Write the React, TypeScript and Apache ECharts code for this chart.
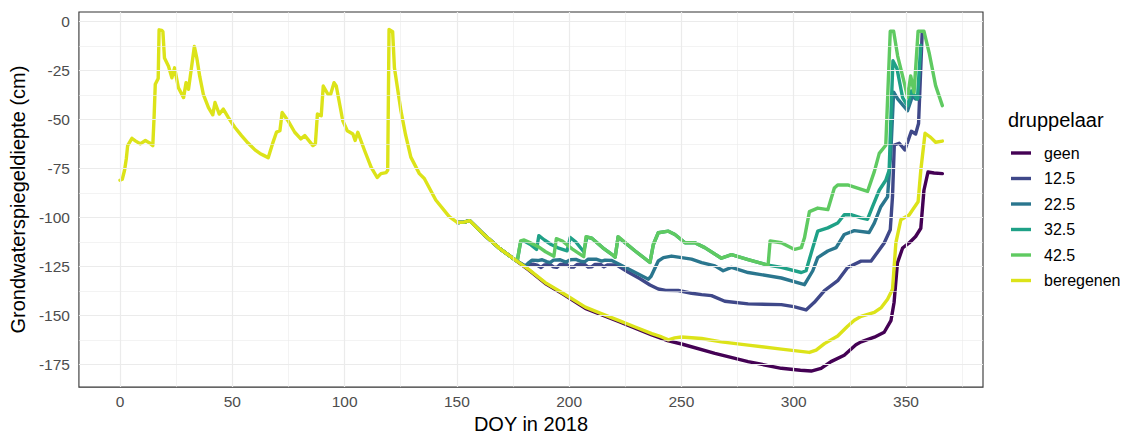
import React, { useEffect, useRef } from "react";
import * as echarts from "echarts";

type Pt = [number, number];

// shared trajectory (all treatments identical until ~day 176)
const commonPath: Pt[] = [
  [0, -81], [1, -80.5], [2, -76], [2.8, -70], [3.4, -63.3], [5.3, -59.6], [7, -61], [9, -62.4],
  [11.3, -60.7], [13, -61.8], [14.6, -63.3], [15.2, -48], [15.7, -32], [17, -29], [17.4, -4.2],
  [18.6, -4.5], [19.1, -5.1], [19.8, -18.6], [21.6, -22.8], [23.1, -28.7], [24.3, -23.6], [26, -33.8],
  [28.3, -38.8], [29.4, -31.2], [30.5, -34.6], [33.1, -12.7], [34.2, -18.6], [35.5, -28], [37.1, -37.1],
  [39.4, -43.9], [41.3, -47.6], [42.3, -41.3], [44.2, -47.2], [46, -44.7], [48.2, -48.9], [51, -53.8],
  [54.1, -58.2], [57, -62], [60.1, -65.5], [62.3, -67.3], [64, -68.3], [66, -69.5], [68.2, -61.4],
  [69.7, -56.4], [71.2, -55.7], [72.2, -46.4], [74.8, -50.6], [77.8, -56.5], [80.5, -59.9], [82.3, -58.2],
  [85.9, -63.3], [87, -62.4], [87.9, -47.2], [89.6, -48.1], [90.5, -32.9], [92.6, -37.1], [93.8, -37.1],
  [95.3, -31.2], [96.3, -32.9], [99.2, -50.6], [101.2, -55.7], [103.7, -57.4], [104.7, -60.7],
  [105.9, -56.5], [108.9, -65.8], [111.8, -74.3], [114.5, -79.6], [116.2, -77.6], [118.5, -77.1],
  [119.2, -75.9], [119.8, -4], [121.4, -5.1], [122.2, -23.6], [125.1, -45.6], [127.2, -58], [129.5, -69.2],
  [133.3, -77.6], [135.5, -80.1], [140.6, -91.1], [146.6, -99.6], [150.3, -102.6], [153.2, -102.4],
  [155.7, -101.6], [161.4, -108], [168.8, -115.6], [176.1, -121.8],
];

const geenTail: Pt[] = [
  [182.1, -126.9], [189.4, -133.7], [196.9, -138.9], [207.2, -146.4], [214.6, -149.8], [222, -153.1],
  [229.4, -156.5], [236.8, -159.9], [244.2, -163], [250.1, -164.6], [264.9, -169.4], [279.7, -173.6],
  [294.5, -177], [303, -178], [307.8, -178.4], [312.2, -177], [316.6, -173.6], [322.5, -170.3],
  [327.7, -165], [330, -163.5], [335.9, -161.1], [340.3, -158.6], [343.3, -152.7], [344.7, -143.4],
  [346.2, -123.2], [348.5, -115.6], [351.4, -113], [354.3, -109.7], [356.6, -105.5], [358, -86.1],
  [359.8, -76.8], [362.5, -77.3], [366.2, -77.6],
];

const tail125: Pt[] = [
  [180.5, -125], [182.1, -123.9], [184, -123.8], [186, -124.5], [187.5, -125.5], [189, -124.2],
  [191.5, -124], [193, -125.2], [194.5, -125.5], [196, -124], [199, -124], [200.5, -125.3], [202, -125.3],
  [203.5, -124], [207, -124], [208.5, -125.3], [210, -125.2], [211.5, -124], [214, -124], [215.5, -125.2],
  [217, -124.3], [221, -124.2], [226.4, -128], [231.6, -131.3], [236, -134.5], [239.7, -136.5],
  [243, -137.2], [248.6, -137.3], [254.5, -138.7], [259, -139.4], [263.4, -139.9], [269.3, -142.8],
  [279.7, -144.1], [294.5, -144.5], [300, -145.5], [305.5, -147.2], [309.2, -143.3], [313.7, -137.3],
  [319.6, -132.3], [324, -125.5], [330, -122.3], [334.4, -122.3], [337.5, -117.5], [340.3, -113],
  [343, -106.3], [344, -89.4], [344.8, -63], [347, -62.1], [349.5, -65.5], [352.4, -56], [354.3, -57.4],
  [355.6, -52], [357.2, -6],
];

const tail225: Pt[] = [
  [180.5, -124.8], [182.1, -123], [183.5, -121.8], [186, -122], [188, -121.6], [190, -122.5],
  [191.5, -123], [193, -121.8], [196, -121.6], [198.5, -122.8], [200.5, -121.6], [203, -121.4],
  [205.5, -122.5], [207, -122.6], [208.5, -121.3], [212, -121.3], [214.5, -122.3], [216, -121.8],
  [219, -122], [226, -126], [231, -129], [235.3, -131.5], [236.5, -130], [239.7, -122.2], [242, -120.5],
  [245.6, -119.7], [250.1, -120.5], [254.5, -121.3], [259, -123], [264.9, -124.7], [268.6, -127.2],
  [272.3, -125.5], [279.7, -128.1], [294.5, -130.9], [304.8, -134.3], [308.5, -127.2], [310.7, -120.5],
  [315.2, -117.1], [318.9, -115.4], [322.5, -108.7], [327, -106.7], [333.6, -107.7], [335.9, -102.9],
  [338.8, -94.5], [341.8, -89.4], [343.3, -65.8], [344.5, -36], [346.3, -39.5], [350.7, -45.5],
  [352.9, -38], [354.3, -39.5], [356.1, -38.5],
];

const tail325: Pt[] = [
  [177, -121.5], [178.4, -112.5], [180, -112], [183, -114], [185.5, -116.3], [186.5, -109.3],
  [189, -111.5], [192, -113.8], [195, -115.5], [199.1, -117], [200.5, -110.2], [203, -112.5],
  [206.5, -117.5], [207.9, -110], [210.1, -110.6], [215, -115.5], [219, -118.8], [220.5, -120.3],
  [221.8, -110], [229.4, -117.1], [236, -123], [237.5, -113.8], [239.7, -107.8], [244.2, -107],
  [247.1, -108.7], [251.6, -112.9], [256, -112.9], [260.4, -115.4], [267.8, -120.8], [272.3, -119],
  [279.7, -121.5], [288.6, -124.3], [294.5, -125.5], [303.4, -128.1], [305.5, -127.2], [308.5, -115.4],
  [310.7, -107], [315.2, -105.3], [319.6, -102.8], [322.5, -98.6], [325.5, -98.6], [330, -100.2],
  [332.9, -100.9], [335.1, -94.5], [338.1, -86.1], [341, -81], [342.5, -75.9], [343.6, -38.8],
  [344.2, -20], [346, -24], [348.5, -38.8], [350.7, -43], [352.4, -35.4], [355.1, -39.6], [356.6, -12],
];

const tail425: Pt[] = [
  [177, -121.5], [178.4, -112], [180, -111.5], [182, -112.5], [186.4, -115], [189.5, -117.5],
  [193.2, -119.8], [194.3, -110.8], [197, -112], [201.3, -116], [206.5, -120], [207.5, -109.8],
  [210.1, -110.6], [215, -115.5], [219, -118.8], [220.5, -120.3], [221.8, -109.8], [229.4, -117.1],
  [236, -123], [237.5, -113.8], [239.7, -107.8], [244.2, -107], [247.1, -108.7], [251.6, -112.9],
  [256, -112.9], [260.4, -115.4], [267.8, -120.8], [272.3, -119], [279.7, -121.5], [288.6, -124.3],
  [289.5, -112], [294.5, -112.9], [300.4, -116.3], [303.4, -115.4], [304.8, -110.4], [307, -97],
  [310.7, -95.2], [315.2, -96], [318.1, -85], [319.6, -83.4], [324, -83.4], [332.9, -86.7],
  [335.9, -76.6], [338.1, -67.3], [341, -63.1], [343, -4.9], [344.5, -4.9], [346.3, -17.6],
  [349.2, -31], [350.7, -38.6], [352.1, -27.7], [353.6, -36.1], [355.4, -4.9], [358, -4.9],
  [360.3, -15.8], [363.2, -32.7], [366.2, -42.9],
];

const beregenenTail: Pt[] = [
  [182.1, -126.6], [189.4, -133.3], [196.9, -138.4], [199.8, -140.5], [207.2, -145.8], [214.6, -149.2],
  [222, -152.5], [229.4, -155.9], [236.8, -159.3], [241.2, -161], [244.2, -162.5], [247, -161.5],
  [250, -161], [259, -161.8], [267.8, -163.5], [279.7, -165.2], [294.5, -167.2], [307, -168.9],
  [310, -167.7], [313.7, -164.4], [319.6, -160.5], [324, -155.5], [327, -152.5], [330, -150.5],
  [335.9, -148.5], [339, -146], [341.8, -141.7], [344, -136.7], [345.5, -113], [347.7, -101.2],
  [351.4, -98.7], [352.9, -96.2], [355.4, -92], [356.6, -75.9], [358.5, -57], [361, -59.1],
  [363.2, -61.6], [366.2, -61],
];

const seriesNames = ["geen", "12.5", "22.5", "32.5", "42.5", "beregenen"];
const seriesTails: Pt[][] = [geenTail, tail125, tail225, tail325, tail425, beregenenTail];
const seriesColors = ["#440154", "#3F4889", "#2A768E", "#1FA187", "#5FCA61", "#DCE319"];

const xTicks = [0, 50, 100, 150, 200, 250, 300, 350];
const xMinorTicks = [25, 75, 125, 175, 225, 275, 325, 375];
const yTicks = [0, -25, -50, -75, -100, -125, -150, -175];
const yMinorTicks = [-12.5, -37.5, -62.5, -87.5, -112.5, -137.5, -162.5];

const FONT = "'Liberation Sans', Arial, sans-serif";

export default function App() {
  const ref = useRef<HTMLDivElement>(null);
  useEffect(() => {
    if (!ref.current) return;
    const chart = echarts.init(ref.current, undefined, { renderer: "svg" });

    const gridLines = [
      ...xMinorTicks.map((v) => ({ xAxis: v, lineStyle: { color: "#EBEBEB", width: 0.6, type: "solid" } })),
      ...yMinorTicks.map((v) => ({ yAxis: v, lineStyle: { color: "#EBEBEB", width: 0.6, type: "solid" } })),
      ...xTicks.map((v) => ({ xAxis: v, lineStyle: { color: "#EBEBEB", width: 1.2, type: "solid" } })),
      ...yTicks.map((v) => ({ yAxis: v, lineStyle: { color: "#EBEBEB", width: 1.2, type: "solid" } })),
    ];

    // the treatments only become visible once they leave the shared path;
    // start them a little before that so the yellow line stays clean earlier on
    const sharedLate = commonPath.filter((p) => p[0] >= 150);

    const lineSeries = seriesNames.map((name, i) => ({
      name,
      type: "line",
      data: name === "beregenen" ? [...commonPath, ...seriesTails[i]] : [...sharedLate, ...seriesTails[i]],
      showSymbol: false,
      symbol: "none",
      color: seriesColors[i],
      lineStyle: { width: 3.4, color: seriesColors[i], join: "round", cap: "round" },
      emphasis: { disabled: true },
      z: 3,
    }));

    chart.setOption({
      animation: false,
      backgroundColor: "#ffffff",
      grid: {
        left: 76,
        top: 12,
        width: 907,
        height: 378.7,
        show: true,
        borderColor: "#333333",
        borderWidth: 1.1,
        backgroundColor: "#ffffff",
      },
      xAxis: {
        type: "value",
        min: -18.3,
        max: 384.3,
        splitLine: { show: false },
        axisLine: { show: false },
        axisTick: { show: true, length: 5, lineStyle: { color: "#333333", width: 1 }, customValues: xTicks },
        axisLabel: { customValues: xTicks, color: "#4D4D4D", fontSize: 15.5, margin: 6, fontFamily: FONT },
        name: "DOY in 2018",
        nameLocation: "middle",
        nameGap: 25,
        nameTextStyle: { color: "#000000", fontSize: 20, fontFamily: FONT },
      },
      yAxis: {
        type: "value",
        min: -186.6,
        max: 4.9,
        splitLine: { show: false },
        axisLine: { show: false },
        axisTick: { show: true, length: 5, lineStyle: { color: "#333333", width: 1 }, customValues: yTicks },
        axisLabel: { customValues: yTicks, color: "#4D4D4D", fontSize: 15.5, margin: 9, fontFamily: FONT },
        name: "Grondwaterspiegeldiepte (cm)",
        nameLocation: "middle",
        nameGap: 47,
        nameTextStyle: { color: "#000000", fontSize: 20, fontFamily: FONT },
      },
      legend: {
        data: seriesNames,
        orient: "vertical",
        left: 1011,
        top: 145,
        padding: 0,
        itemGap: 9.5,
        itemWidth: 20,
        itemHeight: 3.4,
        icon: "rect",
        selectedMode: false,
        textStyle: { fontSize: 16, color: "#000000", fontFamily: FONT, padding: [0, 0, 0, 8] },
      },
      graphic: [
        {
          type: "text",
          left: 1008,
          top: 110,
          style: { text: "druppelaar", fontSize: 20, fill: "#000000", fontFamily: FONT },
        },
      ],
      series: [
        {
          type: "line",
          data: [],
          silent: true,
          z: 1,
          markLine: {
            silent: true,
            symbol: ["none", "none"],
            label: { show: false },
            emphasis: { disabled: true },
            data: gridLines,
          },
        },
        ...lineSeries,
      ],
    });
    return () => chart.dispose();
  }, []);

  return (
    <div
      ref={ref}
      style={{ position: "absolute", left: 0, top: 0, width: 1129, height: 439, background: "#fff" }}
    />
  );
}
